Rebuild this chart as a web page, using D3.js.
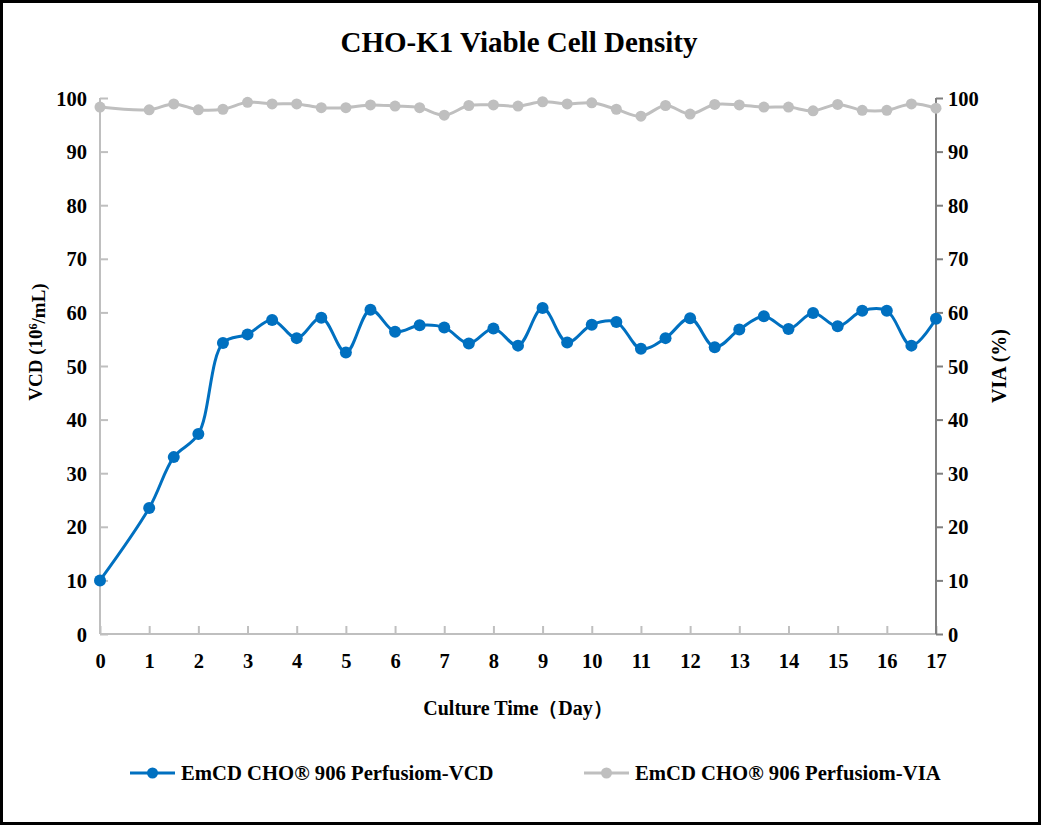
<!DOCTYPE html>
<html>
<head>
<meta charset="utf-8">
<script src="https://cdn.jsdelivr.net/npm/d3@7"></script>
<style>
  html, body { margin: 0; padding: 0; background: #fff; }
  svg { display: block; }
  text { font-family: "Liberation Serif", "Times New Roman", serif; font-weight: bold; fill: #000; }
</style>
</head>
<body>
<svg id="chart" width="1043" height="827"></svg>
<script>
const days = [0, 1, 1.5, 2, 2.5, 3, 3.5, 4, 4.5, 5, 5.5, 6, 6.5, 7, 7.5, 8, 8.5, 9, 9.5, 10, 10.5, 11, 11.5, 12, 12.5, 13, 13.5, 14, 14.5, 15, 15.5, 16, 16.5, 17];
const vcd = [10, 23.5, 33, 37.3, 54.3, 55.9, 58.6, 55.2, 59, 52.5, 60.5, 56.4, 57.6, 57.2, 54.2, 57, 53.8, 60.8, 54.4, 57.7, 58.2, 53.2, 55.2, 58.9, 53.5, 56.8, 59.3, 56.9, 59.9, 57.4, 60.3, 60.3, 53.8, 58.8];
const via = [98.3, 97.8, 98.9, 97.8, 97.9, 99.2, 98.9, 98.9, 98.2, 98.2, 98.7, 98.5, 98.2, 96.8, 98.6, 98.7, 98.5, 99.3, 98.9, 99.1, 97.9, 96.6, 98.6, 97, 98.8, 98.7, 98.3, 98.3, 97.6, 98.8, 97.7, 97.7, 98.9, 98.1];
const xTicks = d3.range(0, 18, 1);
const yTicks = d3.range(0, 101, 10);
const title = "CHO-K1 Viable Cell Density";
const xTitle = "Culture Time（Day）";
const seriesNames = ["EmCD CHO® 906 Perfusiom-VCD", "EmCD CHO® 906 Perfusiom-VIA"];

const svg = d3.select("#chart");
const W = 1043, H = 827;
svg.append("rect").attr("x", 0).attr("y", 0).attr("width", W).attr("height", H).attr("fill", "#fff");
svg.append("rect").attr("x", 1.5).attr("y", 1.5).attr("width", 1038).attr("height", 822)
  .attr("fill", "none").attr("stroke", "#000").attr("stroke-width", 3);

const x = d3.scaleLinear().domain([0, 17]).range([100, 936]);
const yL = d3.scaleLinear().domain([0, 100]).range([634, 98]);
const yR = d3.scaleLinear().domain([0, 100]).range([634, 98]);

// title
svg.append("text").attr("x", 519).attr("y", 52).attr("text-anchor", "middle")
  .style("font-size", "29px").text(title);

// left axis (ticks inside)
const gL = svg.append("g").attr("transform", "translate(100,0)")
  .call(d3.axisLeft(yL).tickValues(yTicks).tickSize(-8).tickPadding(13));
gL.selectAll("path, line").attr("stroke", "#bfbfbf").attr("stroke-width", 2);
gL.select("path").attr("d", "M0," + yL(100) + "V" + yL(0));
gL.selectAll("text").style("font-size", "20.5px").attr("dy", "0.35em");

// bottom axis (ticks inside)
const gB = svg.append("g").attr("transform", "translate(0,634)")
  .call(d3.axisBottom(x).tickValues(xTicks).tickFormat(d3.format("d")).tickSize(-8).tickPadding(19));
gB.selectAll("path, line").attr("stroke", "#bfbfbf").attr("stroke-width", 2);
gB.select("path").attr("d", "M" + x(0) + ",0H" + x(17));
gB.selectAll("text").style("font-size", "20.5px").attr("dy", "0.71em");

// right axis
const gR = svg.append("g").attr("transform", "translate(936,0)")
  .call(d3.axisRight(yR).tickValues(yTicks).tickSize(7).tickPadding(5));
gR.selectAll("path, line").attr("stroke", "#7f7f7f").attr("stroke-width", 2);
gR.select("path").attr("d", "M0," + yR(100) + "V" + yR(0));
gR.selectAll("text").style("font-size", "20.5px").attr("dy", "0.35em").attr("text-anchor", "start");

// axis titles
const lt = svg.append("text").attr("transform", "translate(42,342) rotate(-90)")
  .attr("text-anchor", "middle").style("font-size", "19px");
lt.append("tspan").text("VCD (10");
lt.append("tspan").attr("dy", "-0.4em").style("font-size", "12px").text("6");
lt.append("tspan").attr("dy", "0.4em").text("/mL)");

svg.append("text").attr("transform", "translate(1006,366) rotate(-90)")
  .attr("text-anchor", "middle").style("font-size", "20px").text("VIA (%)");

svg.append("text").attr("x", 518).attr("y", 715).attr("text-anchor", "middle")
  .style("font-size", "20px").text(xTitle);

// series
const curve = d3.curveCatmullRom.alpha(0.5);
const dataVIA = days.map((d, i) => [d, via[i]]);
const dataVCD = days.map((d, i) => [d, vcd[i]]);

function drawSeries(data, yScale, color, r) {
  svg.append("path").datum(data)
    .attr("fill", "none").attr("stroke", color).attr("stroke-width", 3).attr("stroke-linejoin", "round")
    .attr("d", d3.line().x(d => x(d[0])).y(d => yScale(d[1])).curve(curve));
  svg.append("g").selectAll("circle").data(data).join("circle")
    .attr("cx", d => x(d[0])).attr("cy", d => yScale(d[1])).attr("r", r).attr("fill", color);
}
drawSeries(dataVIA, yR, "#bfbfbf", 5.5);
drawSeries(dataVCD, yL, "#0070c0", 6);

// legend
const legend = [
  { name: seriesNames[0], color: "#0070c0", x0: 130 },
  { name: seriesNames[1], color: "#bfbfbf", x0: 584 }
];
legend.forEach(l => {
  svg.append("line").attr("x1", l.x0).attr("x2", l.x0 + 45).attr("y1", 773).attr("y2", 773)
    .attr("stroke", l.color).attr("stroke-width", 3);
  svg.append("circle").attr("cx", l.x0 + 22.5).attr("cy", 773).attr("r", 5.5).attr("fill", l.color);
  svg.append("text").attr("x", l.x0 + 51).attr("y", 780).style("font-size", "20.7px").text(l.name);
});
</script>
</body>
</html>
